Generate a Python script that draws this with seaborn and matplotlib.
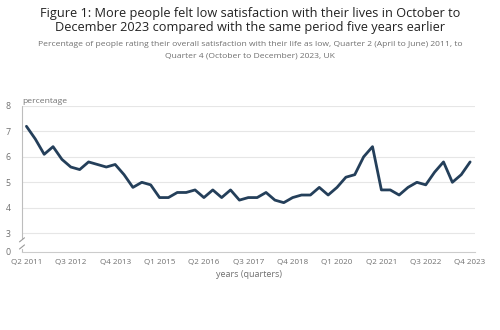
import matplotlib
matplotlib.use("Agg")
import matplotlib.pyplot as plt
import seaborn as sns
import pandas as pd
import numpy as np

quarters = []
for y in range(2011, 2024):
    for q in range(1, 5):
        if y == 2011 and q == 1:
            continue
        quarters.append(f"Q{q} {y}")

values = [7.2, 6.7, 6.1, 6.4, 5.9, 5.6, 5.5, 5.8, 5.7, 5.6, 5.7, 5.3, 4.8, 5.0, 4.9,
          4.4, 4.4, 4.6, 4.6, 4.7, 4.4, 4.7, 4.4, 4.7, 4.3, 4.4, 4.4, 4.6, 4.3, 4.2,
          4.4, 4.5, 4.5, 4.8, 4.5, 4.8, 5.2, 5.3, 6.0, 6.4, 4.7, 4.7, 4.5, 4.8, 5.0,
          4.9, 5.4, 5.8, 5.0, 5.3, 5.8]

y_ticks = [3, 4, 5, 6, 7, 8]
y_break_bottom = 2.27  # where the "0" sits on the broken axis

title = ("Figure 1: More people felt low satisfaction with their lives in October to\n"
         "December 2023 compared with the same period five years earlier")
subtitle = ("Percentage of people rating their overall satisfaction with their life as low, "
            "Quarter 2 (April to June) 2011, to\nQuarter 4 (October to December) 2023, UK")

df = pd.DataFrame({"idx": np.arange(len(quarters)), "quarter": quarters, "value": values})

sns.set_theme(style="white")
plt.rcParams["font.family"] = ["Open Sans", "DejaVu Sans"]

fig = plt.figure(figsize=(5.0, 3.3), dpi=100)
ax = fig.add_axes([0.044, 0.237, 0.906, 0.442])

sns.lineplot(data=df, x="idx", y="value", ax=ax, color="#243f5a", linewidth=2.0)

ax.set_xlim(-0.5, len(quarters) - 0.45)
ax.set_ylim(y_break_bottom, 8)

ax.set_yticks([y_break_bottom] + y_ticks)
ax.set_yticklabels(["0"] + [str(t) for t in y_ticks])
for t in y_ticks:
    ax.axhline(t, color="#e6e6e6", linewidth=0.8, zorder=0)

xt = list(range(0, len(quarters), 5))
ax.set_xticks(xt)
ax.set_xticklabels([quarters[i] for i in xt])

ax.tick_params(axis="y", labelsize=6.3, length=0, pad=8)
ax.tick_params(axis="x", labelsize=5.8, length=3, width=0.6, color="#cccccc", pad=2)
for lbl in ax.get_yticklabels() + ax.get_xticklabels():
    lbl.set_color("#707070")

for s in ["top", "right", "left"]:
    ax.spines[s].set_visible(False)
ax.spines["bottom"].set_color("#cccccc")
ax.spines["bottom"].set_linewidth(0.8)

# broken y-axis line
axis_col = "#bdbdbd"
tr = ax.get_yaxis_transform()
ax.plot([0, 0], [2.82, 8], transform=tr, color=axis_col, lw=0.8, clip_on=False)
ax.plot([0, 0], [y_break_bottom, 2.38], transform=tr, color=axis_col, lw=0.8, clip_on=False)
for yb in [2.46, 2.74]:
    ax.plot([-0.0055, 0.0055], [yb - 0.08, yb + 0.08], transform=tr,
            color="#999999", lw=0.8, clip_on=False)

ax.set_xlabel("years (quarters)", fontsize=6.5, color="#707070", labelpad=3)
ax.set_ylabel("")
ax.text(0.0, 1.005, "percentage", transform=ax.transAxes, fontsize=6.1, color="#707070",
        ha="left", va="bottom")

fig.text(0.5, 0.98, title, ha="center", va="top", fontsize=9.2, color="#222222", linespacing=1.15)
fig.text(0.5, 0.877, subtitle, ha="center", va="top", fontsize=6.1, color="#707070", linespacing=1.9)

fig.savefig("out.png", dpi=100, facecolor="white")
